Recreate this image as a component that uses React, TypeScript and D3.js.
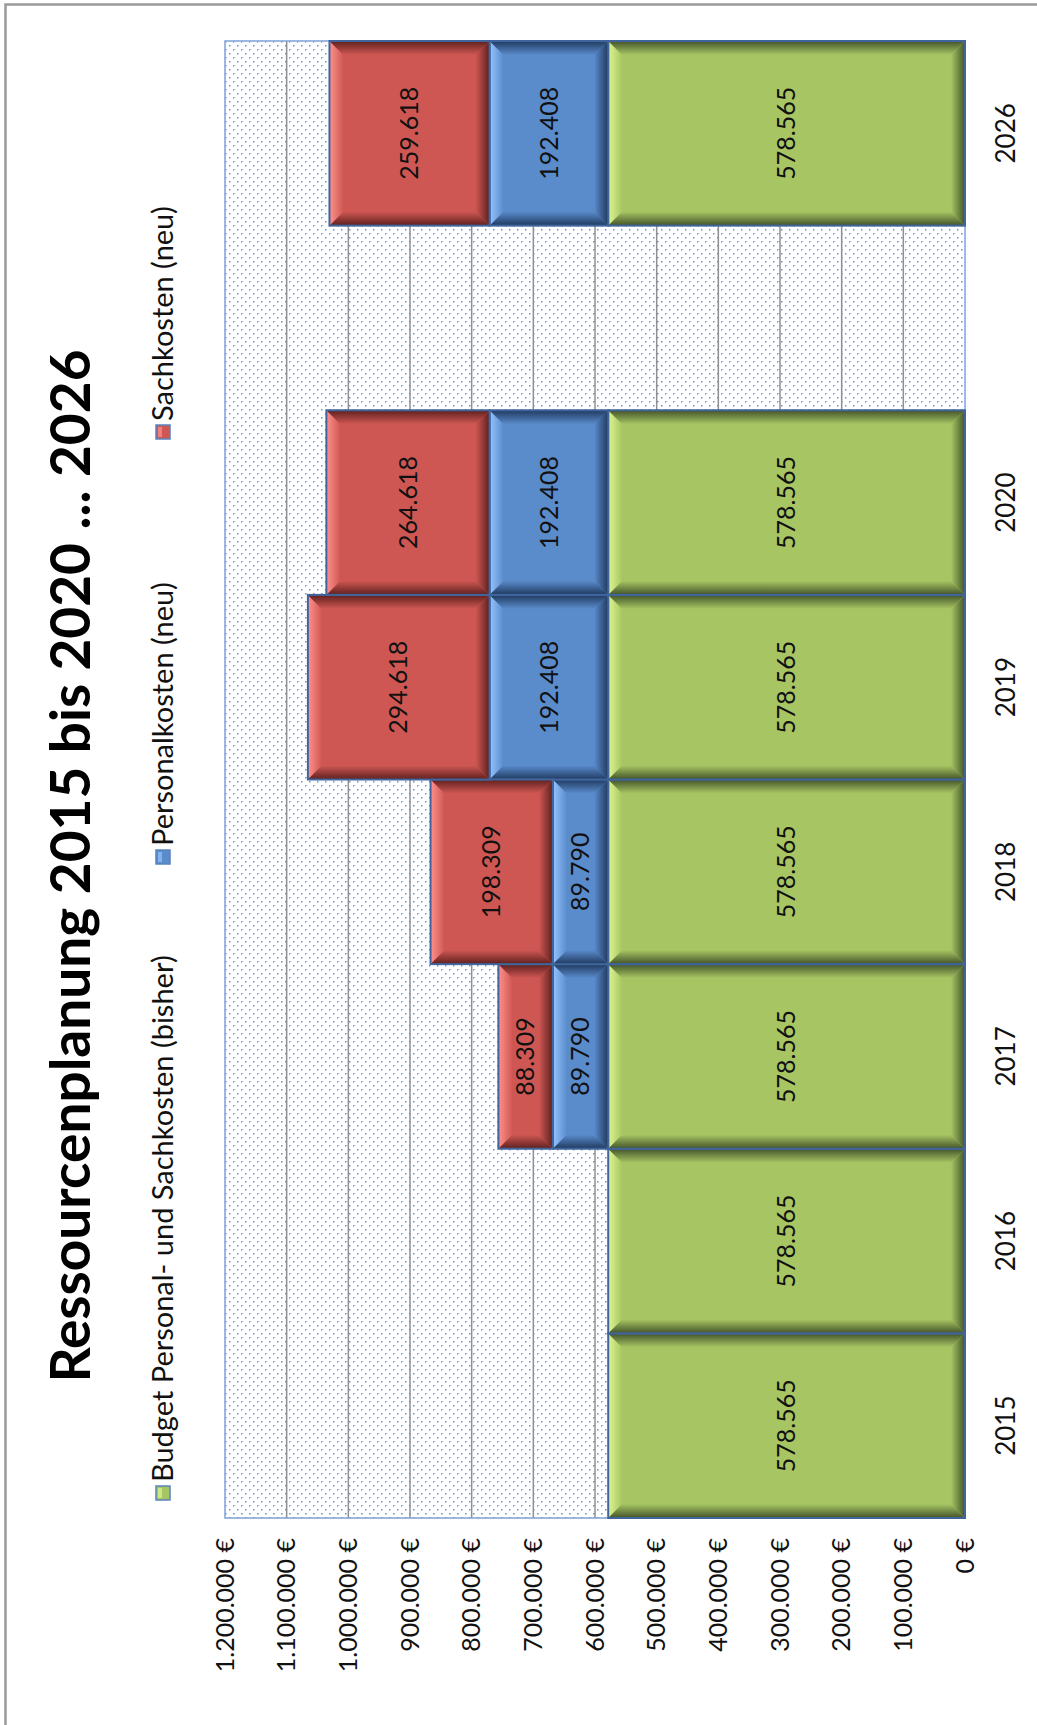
import * as d3 from "d3";

// Chart is an Excel stacked column chart that was turned 90° counter-clockwise,
// so it is drawn here directly as horizontal bars with rotated texts.

const years = ["2015", "2016", "2017", "2018", "2019", "2020", "", "2026"];
const budgetBisher = [578565, 578565, 578565, 578565, 578565, 578565, 0, 578565];
const personalNeu = [0, 0, 89790, 89790, 192408, 192408, 0, 192408];
const sachNeu = [0, 0, 88309, 198309, 294618, 264618, 0, 259618];

const valueTicks = [0, 100000, 200000, 300000, 400000, 500000, 600000, 700000, 800000, 900000, 1000000, 1100000, 1200000];

const seriesNames = [
	"Budget Personal- und Sachkosten (bisher)",
	"Personalkosten (neu)",
	"Sachkosten (neu)",
];
const title = "Ressourcenplanung 2015 bis 2020 ... 2026";

const W = 1037;
const H = 1725;
const plot = { left: 225, right: 965, top: 41, bottom: 1518 };
const FONT = "Lato, 'Open Sans', sans-serif";

// colours per series: base, light edge, dark edge
const palette = [
	{ key: "budget", base: "#a7c663", light: "#dcf592", dark: "#43532a" },
	{ key: "personal", base: "#5a8bcb", light: "#94c4ff", dark: "#203a60" },
	{ key: "sach", base: "#cf5753", light: "#ff918c", dark: "#5e201e" },
];

const de = d3.formatLocale({
	decimal: ",",
	thousands: ".",
	grouping: [3],
	currency: ["", " €"],
});
const fmtNum = de.format(",d");
const fmtEur = de.format("$,d");

type Row = { year: string; budget: number; personal: number; sach: number };

const rows: Row[] = years.map((year, i) => ({
	year,
	budget: budgetBisher[i],
	personal: personalNeu[i],
	sach: sachNeu[i],
}));

function bevel(x0: number, y0: number, x1: number, y1: number) {
	const b = Math.min(14, (x1 - x0) / 3, (y1 - y0) / 3);
	const p = (pts: number[][]) => pts.map((q) => q.join(",")).join(" ");
	return {
		left: p([[x0, y0], [x0 + b, y0 + b], [x0 + b, y1 - b], [x0, y1]]),
		top: p([[x0, y0], [x1, y0], [x1 - b, y0 + b], [x0 + b, y0 + b]]),
		right: p([[x1, y0], [x1, y1], [x1 - b, y1 - b], [x1 - b, y0 + b]]),
		bottom: p([[x0, y1], [x1, y1], [x1 - b, y1 - b], [x0 + b, y1 - b]]),
	};
}

export default function App() {
	const x = d3.scaleLinear().domain([0, 1200000]).range([plot.right, plot.left]);
	const y = d3.scaleBand<string>().domain(years).range([plot.bottom, plot.top]).padding(0);

	const stack = d3.stack<Row>().keys(["budget", "personal", "sach"]);
	const stacked = stack(rows);

	const legendItems = [
		{ i: 0, y: 1493 },
		{ i: 1, y: 857 },
		{ i: 2, y: 432 },
	];

	return (
		<div style={{ position: "absolute", left: 0, top: 0 }}>
			<svg width={W} height={H} style={{ display: "block", background: "#fff" }}>
				<defs>
					<pattern id="dots" width="8" height="8" patternUnits="userSpaceOnUse">
						<rect width="8" height="8" fill="#ffffff" />
						<rect x="1" y="1" width="1.5" height="1.5" fill="#6592d4" />
						<rect x="5" y="5" width="1.5" height="1.5" fill="#6592d4" />
					</pattern>
					{palette.map((c) => (
						<g key={c.key}>
							<linearGradient id={`${c.key}-left`} x1="0" y1="0" x2="1" y2="0">
								<stop offset="0" stopColor={c.light} />
								<stop offset="1" stopColor={c.base} />
							</linearGradient>
							<linearGradient id={`${c.key}-top`} x1="0" y1="0" x2="0" y2="1">
								<stop offset="0" stopColor={c.dark} />
								<stop offset="1" stopColor={c.base} />
							</linearGradient>
							<linearGradient id={`${c.key}-right`} x1="0" y1="0" x2="1" y2="0">
								<stop offset="0" stopColor={c.base} />
								<stop offset="1" stopColor={c.dark} />
							</linearGradient>
							<linearGradient id={`${c.key}-bottom`} x1="0" y1="0" x2="0" y2="1">
								<stop offset="0" stopColor={c.base} />
								<stop offset="1" stopColor={c.dark} />
							</linearGradient>
						</g>
					))}
				</defs>

				{/* chart frame */}
				<rect x={5.5} y={4.5} width={W + 20} height={H + 20} fill="none" stroke="#9a9a9a" strokeWidth={2.5} />

				{/* plot area */}
				<rect
					x={plot.left}
					y={plot.top}
					width={plot.right - plot.left}
					height={plot.bottom - plot.top}
					fill="url(#dots)"
				/>
				{valueTicks.slice(1, -1).map((t) => (
					<line
						key={t}
						x1={x(t)}
						x2={x(t)}
						y1={plot.top}
						y2={plot.bottom}
						stroke="#8f8f8f"
						strokeWidth={1.5}
					/>
				))}
				<rect
					x={plot.left}
					y={plot.top}
					width={plot.right - plot.left}
					height={plot.bottom - plot.top}
					fill="none"
					stroke="#7fa3d8"
					strokeWidth={1.5}
				/>

				{/* bars */}
				{stacked.map((layer, si) => {
					const c = palette[si];
					return (
						<g key={layer.key}>
							{layer.map((d) => {
								if (d[1] - d[0] <= 0) return null;
								const x0 = x(d[1]);
								const x1 = x(d[0]);
								const y0 = y(d.data.year)!;
								const y1 = y0 + y.bandwidth();
								const bv = bevel(x0, y0, x1, y1);
								return (
									<g key={d.data.year}>
										<rect x={x0} y={y0} width={x1 - x0} height={y1 - y0} fill={c.base} />
										<polygon points={bv.left} fill={`url(#${c.key}-left)`} />
										<polygon points={bv.right} fill={`url(#${c.key}-right)`} />
										<polygon points={bv.bottom} fill={`url(#${c.key}-bottom)`} />
										<polygon points={bv.top} fill={`url(#${c.key}-top)`} />
										<rect
											x={x0}
											y={y0}
											width={x1 - x0}
											height={y1 - y0}
											fill="none"
											stroke="#3f659c"
											strokeWidth={2}
										/>
									</g>
								);
							})}
						</g>
					);
				})}

				{/* value labels */}
				{stacked.map((layer) =>
					layer.map((d) => {
						const v = d[1] - d[0];
						if (v <= 0) return null;
						const cx = (x(d[0]) + x(d[1])) / 2;
						const cy = y(d.data.year)! + y.bandwidth() / 2;
						return (
							<text
								key={layer.key + d.data.year}
								transform={`translate(${cx},${cy}) rotate(-90)`}
								textAnchor="middle"
								dy="0.35em"
								fontFamily={FONT}
								fontSize={25}
								fill="#111"
							>
								{fmtNum(v)}
							</text>
						);
					}),
				)}

				{/* category labels */}
				{years.map((yr) => (
					<text
						key={"yl" + yr}
						transform={`translate(1006,${y(yr)! + y.bandwidth() / 2}) rotate(-90)`}
						textAnchor="middle"
						dy="0.35em"
						fontFamily={FONT}
						fontSize={26}
						fill="#111"
					>
						{yr}
					</text>
				))}

				{/* value axis labels */}
				{valueTicks.map((t) => (
					<text
						key={"vt" + t}
						transform={`translate(${x(t)},1538) rotate(-90)`}
						textAnchor="end"
						dy="0.35em"
						fontFamily={FONT}
						fontSize={25}
						fill="#111"
					>
						{fmtEur(t)}
					</text>
				))}

				{/* legend */}
				{legendItems.map(({ i, y: ly }) => {
					const c = palette[i];
					return (
						<g key={"lg" + i}>
							<rect x={156} y={ly - 7} width={14} height={14} fill={c.base} stroke="#5a83c0" strokeWidth={1.5} />
							<rect x={158} y={ly - 5} width={4} height={10} fill={c.light} opacity={0.7} />
							<text
								transform={`translate(163,${ly - 11}) rotate(-90)`}
								textAnchor="start"
								dy="0.35em"
								fontFamily={FONT}
								fontSize={29}
								fill="#111"
							>
								{seriesNames[i]}
							</text>
						</g>
					);
				})}

				{/* title */}
				<text
					transform={`translate(71,866) rotate(-90)`}
					textAnchor="middle"
					dy="0.35em"
					fontFamily={FONT}
					fontWeight="bold"
					fontSize={55}
					fill="#000"
				>
					{title}
				</text>
			</svg>
		</div>
	);
}
